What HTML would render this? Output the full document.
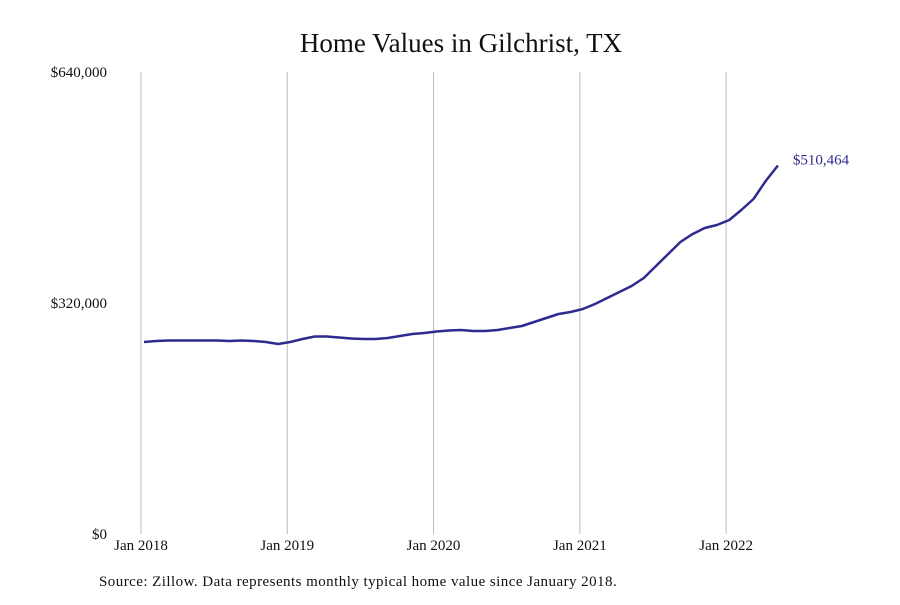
<!DOCTYPE html>
<html><head><meta charset="utf-8"><style>
body{margin:0;background:#fff;font-family:"Liberation Serif",serif;}
svg text{font-family:"Liberation Serif",serif;}
</style></head><body>
<svg width="900" height="600" xmlns="http://www.w3.org/2000/svg">
<rect width="900" height="600" fill="#fff"/>
<text x="461" y="52" text-anchor="middle" font-size="27" fill="#111">Home Values in Gilchrist, TX</text>
<g id="grid"></g><g id="yticks"></g><g id="xticks"></g>
<path id="line" fill="none" stroke="#2e2a8f" stroke-width="2.5" stroke-linejoin="round"/>
<text id="endlabel" font-size="15" fill="#2e2a8f"></text>
<text x="99" y="586" font-size="15" letter-spacing="0.45" fill="#111">Source: Zillow. Data represents monthly typical home value since January 2018.</text>
</svg>
<script>
const values=[266000,267400,268000,268000,268000,268000,268000,267400,268000,267400,266000,263200,
266000,270100,273600,273600,272200,270800,270100,270100,271500,274300,277000,278400,
280500,281900,282600,281200,281200,282600,285400,288200,293700,299200,304800,307500,
311700,318600,326900,335200,343600,354600,371300,387900,404500,415500,423900,428100,
434900,448800,464100,489000,510464];
const yTickValues=[0,320000,640000];
const yTickLabels=["$0","$320,000","$640,000"];
const xTickLabels=["Jan 2018","Jan 2019","Jan 2020","Jan 2021","Jan 2022"];
const xTickMonths=[0,12,24,36,48];
const NS="http://www.w3.org/2000/svg";
const x=m=>144+m*12.19;
const y=v=>534-v/640000*462;
function mk(t,a,p){const e=document.createElementNS(NS,t);for(const k in a)e.setAttribute(k,a[k]);p.appendChild(e);return e;}
const grid=document.getElementById('grid'),xt=document.getElementById('xticks'),yt=document.getElementById('yticks');
xTickMonths.forEach((m,i)=>{
 const gx=x(m)-3;
 const l=mk('line',{x1:gx,x2:gx,y1:72,y2:534,stroke:'#bbb','stroke-width':1},grid);
 
 
 const t=mk('text',{x:gx,y:550,'text-anchor':'middle','font-size':15,fill:'#111'},xt);
 t.textContent=xTickLabels[i];
 
 
});
yTickValues.forEach((v,i)=>{
 const t=mk('text',{x:107,y:y(v)+5,'text-anchor':'end','font-size':15,fill:'#111'},yt);
 t.textContent=yTickLabels[i];
 
 
});
document.getElementById('line').setAttribute('d',values.map((v,i)=>(i?'L':'M')+x(i).toFixed(1)+','+y(v).toFixed(1)).join(''));
const last=values.length-1,el=document.getElementById('endlabel');
el.setAttribute('x',x(last)+15);el.setAttribute('y',y(values[last])-1);
el.textContent='$'+values[last].toLocaleString('en-US');
</script>
</body></html>
